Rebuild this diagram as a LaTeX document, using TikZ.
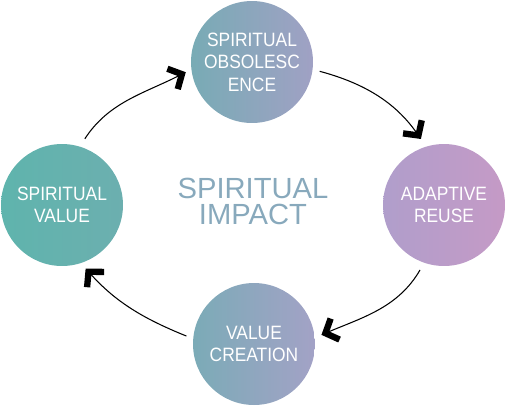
\documentclass[tikz,border=0pt]{standalone}
\usepackage{fontspec}
\setmainfont{Liberation Sans}
\newfontfamily\stagefont[FakeStretch=0.9]{Liberation Sans}
\usetikzlibrary{arrows.meta}
\definecolor{valL}{HTML}{5FB4AD}
\definecolor{valR}{HTML}{6CAFAF}
\definecolor{obsL}{HTML}{78ABB5}
\definecolor{obsR}{HTML}{A0A1C4}
\definecolor{reuL}{HTML}{B09ECB}
\definecolor{reuR}{HTML}{C59AC6}
\definecolor{creL}{HTML}{7BABB7}
\definecolor{creR}{HTML}{A3A2C6}
\definecolor{impact}{HTML}{88A9BC}

\begin{document}
\begin{tikzpicture}[x=0.02cm, y=0.02cm,
  stage/.style={circle,minimum size=2.44cm,inner sep=0pt,align=center,
        text=white,font=\stagefont\fontsize{11}{12.8}\selectfont},
  cyclearrow/.style={line width=0.6pt,
        -{Straight Barb[length=6pt,width=13pt,line width=3.6pt,sharp]}}]
  \useasboundingbox (0,0) rectangle (507,-407);
  % the four stages
  \node[stage,left color=obsL,right color=obsR] (sobs) at (252,-62)
    {SPIRITUAL\\OBSOLESC\\ENCE};
  \node[stage,left color=reuL,right color=reuR] (reuse) at (444,-205)
    {ADAPTIVE\\REUSE};
  \node[stage,left color=creL,right color=creR] (create) at (254,-344)
    {VALUE\\CREATION};
  \node[stage,left color=valL,right color=valR] (spval) at (62,-205)
    {SPIRITUAL\\VALUE};
  \node[text=impact,align=center,font=\fontsize{16.6}{15}\selectfont]
    (impact) at (253,-201.5) {SPIRITUAL\\IMPACT};
  % arcs between stages
  \draw[cyclearrow,shorten <=0.18cm,shorten >=0.12cm]
    (spval.73) to[out=57,in=207] (sobs.187);
  \draw[cyclearrow,shorten <=0.14cm,shorten >=0.18cm]
    (sobs.353) to[out=-15,in=125] (reuse.107);
  \draw[cyclearrow,shorten <=0.16cm,shorten >=0.14cm]
    (reuse.251) to[out=240,in=23] (create.6);
  \draw[cyclearrow,shorten <=0.14cm,shorten >=0.14cm]
    (create.175) to[out=158,in=-48] (spval.288);
\end{tikzpicture}
\end{document}
